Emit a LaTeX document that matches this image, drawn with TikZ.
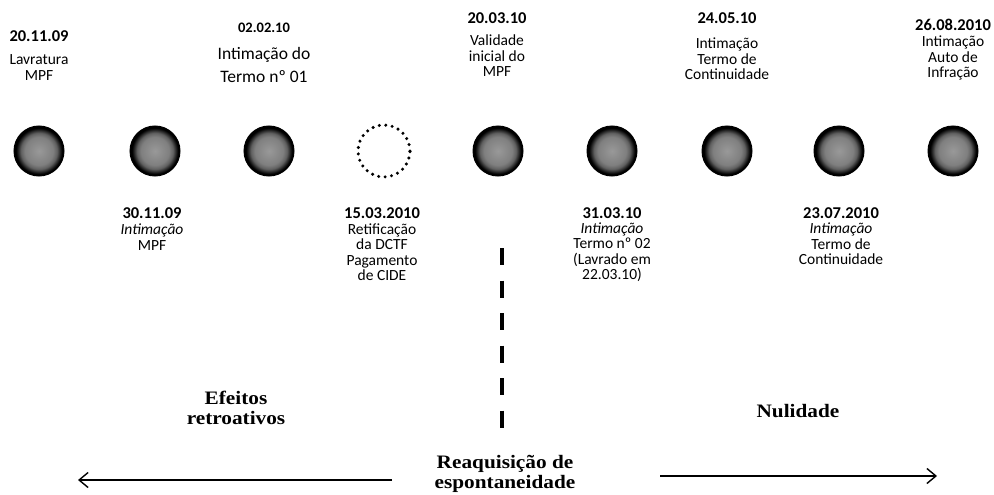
\documentclass[tikz,border=0pt]{standalone}
\usepackage{fontspec}
\setmainfont{Carlito}
\newfontfamily\serifbf[FakeStretch=1.12]{Liberation Serif}
\usetikzlibrary{arrows.meta}
\pgfdeclareradialshading{mottle}{\pgfpoint{0bp}{0bp}}{color(0bp)=(black!40); color(14bp)=(black!50); color(18bp)=(black!62); color(21bp)=(black!85); color(23bp)=(black); color(50bp)=(black)}
\begin{document}
\begin{tikzpicture}[x=1pt,y=-1pt,
  ball/.style={circle, minimum size=50pt, inner sep=0pt, draw=black, line width=1pt, shade, shading=mottle},
  dotc/.style={circle, minimum size=52pt, inner sep=0pt, draw=black, line width=3.4pt, line cap=round, dash pattern=on 0pt off 6.5pt},
  date/.style={font=\fontsize{16.5}{18}\selectfont\bfseries, inner sep=0pt},
  lab/.style={font=\fontsize{15.5}{15.5}\selectfont, align=center, inner sep=0pt},
  serl/.style={font=\fontsize{19}{20}\selectfont\serifbf\bfseries, align=center, inner sep=0pt},
  arr/.style={line width=1.4pt, -{Straight Barb[length=9pt,width=15pt,line width=1.4pt]}},
  vdash/.style={line width=4pt, dash pattern=on 17pt off 15.5pt}
]
\useasboundingbox (0,0) rectangle (994,495);

% circles
\node[ball] (c1) at (39,151) {};
\node[ball] (c2) at (155,151) {};
\node[ball] (c3) at (269,151) {};
\node[dotc] (c4) at (384,151) {};
\node[ball] (c5) at (498,151) {};
\node[ball] (c6) at (612,151) {};
\node[ball] (c7) at (727,151) {};
\node[ball] (c8) at (839,151) {};
\node[ball] (c9) at (953,151) {};

% top labels
\node[date] (d1) at (39,36) {20.11.09};
\node[lab, font=\fontsize{15.5}{16}\selectfont] (t1) at (39,68) {Lavratura\\MPF};

\node[date, font=\fontsize{14.5}{16}\selectfont\bfseries] (d3) at (264,28) {02.02.10};
\node[lab, font=\fontsize{17.5}{23}\selectfont] (t3) at (264,65) {Intimação do\\Termo nº 01};

\node[date] (d5) at (497,18) {20.03.10};
\node[lab] (t5) at (497,56) {Validade\\inicial do\\MPF};

\node[date] (d7) at (727,18) {24.05.10};
\node[lab] (t7) at (727,59) {Intimação\\Termo de\\Continuidade};

\node[date] (d9) at (953,25) {26.08.2010};
\node[lab] (t9) at (953,58) {Intimação\\Auto de\\Infração};

% bottom labels
\node[date] (d2) at (152,213) {30.11.09};
\node[lab] (t2) at (152,237) {\textit{Intimação}\\MPF};

\node[date] (d4) at (382,213) {15.03.2010};
\node[lab] (t4) at (382,252) {Retificação\\da DCTF\\Pagamento\\de CIDE};

\node[date] (d6) at (612,213) {31.03.10};
\node[lab] (t6) at (612,252) {\textit{Intimação}\\Termo nº 02\\(Lavrado em\\22.03.10)};

\node[date] (d8) at (841,213) {23.07.2010};
\node[lab] (t8) at (841,244) {\textit{Intimação}\\Termo de\\Continuidade};

% dashed separator
\coordinate (dtop) at (502,248);
\coordinate (dbot) at (502,428);
\draw[vdash] (dtop) -- (dbot);

% lower texts
\node[serl] (eff) at (236,408) {Efeitos\\retroativos};
\node[serl] (nul) at (798,411) {Nulidade};
\node[serl] (rea) at (505,474) {Reaquisição de\\espontaneidade};

% arrows
\coordinate (la1) at (392,480);
\coordinate (la2) at (78,480);
\coordinate (ra1) at (660,476);
\coordinate (ra2) at (937,476);
\draw[arr] (la1) -- (la2);
\draw[arr] (ra1) -- (ra2);
\end{tikzpicture}
\end{document}
